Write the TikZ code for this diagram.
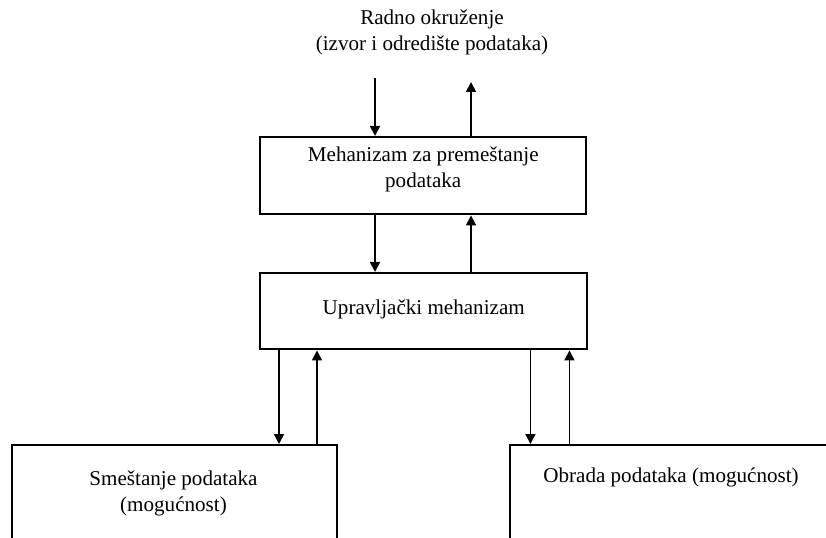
\documentclass[tikz,border=0pt]{standalone}
\usepackage{fontspec}
\setmainfont{Liberation Serif}
\usetikzlibrary{arrows.meta, positioning, calc}

\begin{document}
\begin{tikzpicture}[
    % Styles
    unit box/.style={draw, line width=1.4pt, inner sep=0, anchor=north west, minimum height=1.54cm},
    box text/.style={align=center, font=\fontsize{12}{14.5}\selectfont, inner sep=0},
    flow/.style={line width=1pt, -{Triangle[length=2mm, width=2mm]}},
]
    \useasboundingbox (0,0) rectangle (16.52,10.74);
    \clip (0,0) rectangle (16.52,10.74);

    % === Environment on top ===
    \node[box text] (env) at (8.64,10.09) {Radno okruženje\\(izvor i odredište podataka)};
    \coordinate (env-in) at (7.50,9.18);
    \coordinate (env-out) at (9.42,9.10);

    % === Middle boxes ===
    \node[unit box, minimum width=6.52cm] (move) at (5.18,8.02) {};
    \node[box text] (move-label) at ($(move.center)+(0,0.13)$) {Mehanizam za premeštanje\\podataka};

    \node[unit box, minimum width=6.54cm, minimum height=1.52cm] (ctrl) at (5.18,5.30) {};
    \node[box text] (ctrl-label) at ($(ctrl.center)+(0,0.04)$) {Upravljački mehanizam};

    % === Bottom boxes (cut off by the frame) ===
    \node[unit box, minimum width=6.5cm, minimum height=2cm] (store) at (0.22,1.86) {};
    \node[box text] (store-label) at (3.47,0.87) {Smeštanje podataka\\(mogućnost)};

    \node[unit box, minimum width=6.5cm, minimum height=2cm] (proc) at (10.18,1.86) {};
    \node[box text] (proc-label) at (13.42,1.20) {Obrada podataka (mogućnost)};

    % Environment <-> move box
    \draw[flow] (env-in) -- (env-in |- move.north);
    \draw[flow] (env-out |- move.north) -- (env-out);

    % Move box <-> control box
    \draw[flow] (env-in |- move.south) -- (env-in |- ctrl.north);
    \draw[flow] (env-out |- ctrl.north) -- (env-out |- move.south);

    % Control box <-> store box
    \draw[flow] ([xshift=4mm]ctrl.south west) -- ([xshift=4mm]ctrl.south west |- store.north);
    \draw[flow] ([xshift=11.6mm]ctrl.south west |- store.north) -- ([xshift=11.6mm]ctrl.south west);

    % Control box <-> processing box
    \draw[flow] ([xshift=-11.6mm]ctrl.south east) -- ([xshift=-11.6mm]ctrl.south east |- proc.north);
    \draw[flow] ([xshift=-3.8mm]ctrl.south east |- proc.north) -- ([xshift=-3.8mm]ctrl.south east);
\end{tikzpicture}
\end{document}
